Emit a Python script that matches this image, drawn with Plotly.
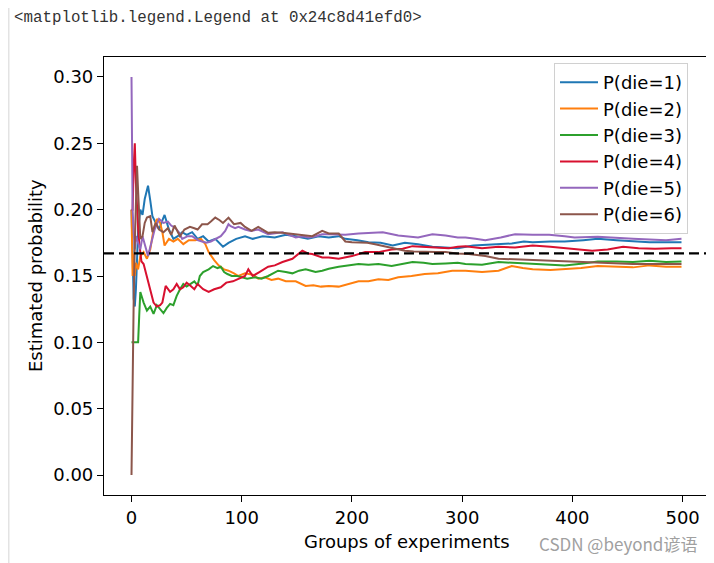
import plotly.graph_objects as go

# ---- data ----
labels = ["P(die=1)", "P(die=2)", "P(die=3)", "P(die=4)", "P(die=5)", "P(die=6)"]
colors = ["#1f77b4", "#ff7f0e", "#2ca02c", "#d8102f", "#9467bd", "#8c564b"]

x1 = [0, 1, 2, 3, 4, 5, 6, 8, 10, 12, 15, 17, 19, 22, 25, 28, 30, 34, 38, 42, 46, 50, 55, 60, 65, 70, 76, 83, 88, 95,
      103, 110, 119, 130, 140, 149, 160, 170, 179, 188, 194, 205, 215, 226, 237, 248, 260, 273, 285, 296, 310, 320,
      333, 345, 356, 364, 380, 393, 410, 423, 440, 455, 470, 485, 499]
y1 = [0.2, 0.15, 0.133, 0.127, 0.14, 0.162, 0.185, 0.2, 0.196, 0.208, 0.218, 0.207, 0.195, 0.19, 0.185, 0.192, 0.196,
      0.185, 0.178, 0.18, 0.183, 0.181, 0.183, 0.178, 0.18, 0.176, 0.178, 0.172, 0.175, 0.178, 0.18, 0.178, 0.18,
      0.179, 0.181, 0.18, 0.178, 0.18, 0.179, 0.18, 0.178, 0.177, 0.1755, 0.175, 0.173, 0.175, 0.174, 0.172, 0.1715,
      0.171, 0.173, 0.1735, 0.174, 0.1745, 0.176, 0.1755, 0.176, 0.176, 0.177, 0.178, 0.177, 0.176, 0.1755, 0.1755,
      0.1755]

x2 = [0, 1, 2, 3, 4, 6, 8, 11, 14, 17, 20, 23, 26, 28, 30, 34, 38, 42, 47, 52, 58, 63, 67, 70, 75, 79, 84, 88, 93, 97,
      103, 110, 115, 121, 127, 133, 140, 149, 158, 165, 172, 179, 188, 197, 206, 215, 224, 233, 242, 254, 266, 278,
      291, 303, 318, 333, 345, 355, 364, 380, 393, 408, 423, 440, 455, 470, 485, 499]
y2 = [0.2, 0.15, 0.167, 0.15, 0.16, 0.155, 0.165, 0.168, 0.163, 0.17, 0.185, 0.193, 0.19, 0.183, 0.173, 0.178, 0.176,
      0.178, 0.174, 0.177, 0.177, 0.178, 0.174, 0.168, 0.162, 0.158, 0.155, 0.154, 0.152, 0.15, 0.152, 0.151, 0.148,
      0.149, 0.147, 0.148, 0.146, 0.146, 0.1425, 0.143, 0.142, 0.1425, 0.142, 0.144, 0.146, 0.146, 0.1475, 0.147,
      0.149, 0.15, 0.1515, 0.152, 0.154, 0.154, 0.153, 0.154, 0.1575, 0.156, 0.155, 0.1545, 0.155, 0.156, 0.1575,
      0.157, 0.1565, 0.158, 0.157, 0.157]

x3 = [0, 6, 7, 8, 11, 14, 17, 20, 23, 26, 29, 32, 35, 38, 41, 44, 47, 50, 53, 57, 60, 62, 65, 70, 74, 78, 81, 84, 87,
      91, 96, 100, 105, 112, 118, 124, 133, 140, 146, 152, 158, 163, 167, 173, 179, 188, 194, 206, 215, 224, 236, 246,
      255, 265, 273, 285, 296, 303, 318, 333, 348, 364, 380, 393, 410, 423, 440, 455, 470, 485, 499]
y3 = [0.1, 0.1, 0.12, 0.138, 0.13, 0.124, 0.127, 0.1215, 0.128, 0.125, 0.122, 0.126, 0.129, 0.128, 0.135, 0.14, 0.144,
      0.142, 0.144, 0.146, 0.143, 0.15, 0.153, 0.155, 0.1575, 0.156, 0.157, 0.153, 0.1515, 0.15, 0.15, 0.149, 0.148,
      0.149, 0.148, 0.15, 0.154, 0.153, 0.152, 0.154, 0.155, 0.154, 0.153, 0.154, 0.1555, 0.157, 0.1575, 0.159,
      0.1585, 0.159, 0.1575, 0.159, 0.1605, 0.16, 0.159, 0.1595, 0.16, 0.159, 0.1585, 0.1605, 0.16, 0.159, 0.1585,
      0.158, 0.1595, 0.161, 0.161, 0.1605, 0.1615, 0.1605, 0.161]

x4 = [0, 1, 2, 3, 4, 5, 6, 7, 9, 11, 14, 17, 20, 23, 26, 28, 31, 35, 38, 41, 44, 47, 50, 53, 57, 60, 65, 70, 75, 81, 86,
      92, 97, 103, 106, 110, 116, 124, 130, 137, 146, 151, 155, 160, 164, 173, 179, 188, 200, 212, 224, 236, 246, 255,
      266, 276, 288, 296, 303, 318, 333, 348, 364, 380, 393, 408, 418, 432, 446, 460, 475, 490, 499]
y4 = [0.2, 0.2, 0.233, 0.25, 0.22, 0.2, 0.186, 0.175, 0.161, 0.159, 0.15, 0.14, 0.13, 0.127, 0.128, 0.13, 0.1425,
      0.138, 0.14, 0.144, 0.14, 0.1415, 0.145, 0.143, 0.14, 0.144, 0.14, 0.138, 0.14, 0.1415, 0.145, 0.146, 0.148,
      0.15, 0.155, 0.15, 0.153, 0.157, 0.158, 0.1605, 0.163, 0.166, 0.169, 0.167, 0.1665, 0.164, 0.164, 0.163, 0.165,
      0.168, 0.168, 0.17, 0.1705, 0.1725, 0.172, 0.172, 0.171, 0.172, 0.1725, 0.171, 0.172, 0.1715, 0.173, 0.172,
      0.171, 0.1695, 0.169, 0.17, 0.172, 0.171, 0.1705, 0.171, 0.171]

x5 = [0, 1, 2, 3, 4, 6, 8, 10, 13, 15, 18, 21, 25, 29, 33, 36, 40, 43, 46, 51, 55, 60, 64, 68, 72, 76, 81, 85, 88, 90,
      94, 97, 103, 108, 115, 124, 130, 137, 143, 149, 155, 161, 167, 173, 179, 188, 194, 206, 217, 228, 242, 250, 260,
      273, 285, 296, 303, 312, 321, 335, 348, 364, 379, 393, 402, 423, 440, 455, 470, 485, 499]
y5 = [0.3, 0.2, 0.183, 0.17, 0.18, 0.175, 0.17, 0.18, 0.17, 0.165, 0.175, 0.185, 0.193, 0.19, 0.191, 0.188, 0.186,
      0.183, 0.178, 0.18, 0.18, 0.177, 0.176, 0.175, 0.176, 0.178, 0.18, 0.184, 0.189, 0.1875, 0.186, 0.187, 0.185,
      0.184, 0.185, 0.1815, 0.182, 0.183, 0.181, 0.179, 0.18, 0.179, 0.18, 0.1815, 0.1815, 0.1815, 0.181, 0.182,
      0.1825, 0.183, 0.1805, 0.18, 0.179, 0.1815, 0.1805, 0.179, 0.179, 0.178, 0.177, 0.179, 0.1815, 0.181, 0.181,
      0.18, 0.179, 0.1795, 0.179, 0.178, 0.1775, 0.177, 0.178]

x6 = [0, 1, 2, 3, 4, 5, 6, 7, 8, 10, 12, 14, 17, 19, 22, 25, 29, 33, 36, 39, 44, 48, 53, 57, 60, 64, 69, 72, 76, 80,
      83, 88, 93, 99, 103, 109, 115, 124, 130, 137, 149, 157, 164, 173, 179, 188, 194, 200, 206, 214, 221, 230, 236,
      248, 256, 266, 276, 285, 295, 306, 321, 333, 348, 364, 380, 393, 410, 423, 440, 455, 470, 485, 499]
y6 = [0.0, 0.1, 0.133, 0.175, 0.2, 0.233, 0.214, 0.2, 0.178, 0.18, 0.19, 0.194, 0.195, 0.183, 0.19, 0.185, 0.183,
      0.186, 0.181, 0.188, 0.18, 0.185, 0.187, 0.186, 0.185, 0.189, 0.189, 0.191, 0.194, 0.192, 0.19, 0.194, 0.189,
      0.19, 0.187, 0.184, 0.187, 0.1825, 0.183, 0.1825, 0.1815, 0.181, 0.18, 0.184, 0.182, 0.182, 0.176, 0.1755,
      0.1755, 0.175, 0.174, 0.1725, 0.171, 0.169, 0.1685, 0.168, 0.168, 0.168, 0.167, 0.1665, 0.165, 0.163, 0.1625,
      0.162, 0.161, 0.1605, 0.1605, 0.16, 0.1595, 0.159, 0.159, 0.159, 0.159]

xs = [x1, x2, x3, x4, x5, x6]
ys = [y1, y2, y3, y4, y5, y6]

true_p = 0.167
x_ticks = [0, 100, 200, 300, 400, 500]
y_ticks = [0.0, 0.05, 0.10, 0.15, 0.20, 0.25, 0.30]
x_title = "Groups of experiments"
y_title = "Estimated probability"
header_text = "<matplotlib.legend.Legend at 0x24c8d41efd0>"
watermark = "CSDN @beyond谚语"

# ---- figure (page has an 8px body margin) ----
OFF = 8
W, H = 714, 563
L, T = 104 - OFF, 57 - OFF
R = W - (709 - OFF)
B = H - (495 - OFF)
pw, ph = W - L - R, H - T - B


def px_x(p):
    return (p - OFF - L) / pw


def px_y(p):
    return (H - B - (p - OFF)) / ph


FS = 18
fig = go.Figure()
for i in range(6):
    fig.add_trace(go.Scatter(
        x=xs[i], y=ys[i], mode="lines", name=labels[i],
        line=dict(color=colors[i], width=2), legendgroup="g%d" % i,
    ))

fig.add_hline(y=true_p, line=dict(color="black", width=2.2, dash="10px,5px"))

font_main = "DejaVu Sans"
fig.update_layout(
    width=W, height=H,
    margin=dict(l=L, r=R, t=T, b=B),
    paper_bgcolor="white", plot_bgcolor="white",
    font=dict(family=font_main, size=FS, color="black"),
    showlegend=True,
    legend=dict(
        x=1 - 21 / pw, y=1 - 6 / ph, xanchor="right", yanchor="top",
        bgcolor="rgba(255,255,255,0.85)", bordercolor="#d0d0d0", borderwidth=1,
        font=dict(family=font_main, size=FS, color="black"),
        traceorder="grouped", tracegroupgap=0, itemwidth=38,
    ),
    xaxis=dict(
        range=[-24.95, 523.95], tickvals=x_ticks, showgrid=False, zeroline=False,
        showline=True, linecolor="black", linewidth=1.2, mirror=True,
        ticks="outside", ticklen=6, tickwidth=1.2, tickcolor="black",
        tickfont=dict(family=font_main, size=FS),
    ),
    yaxis=dict(
        range=[-0.015, 0.315], tickvals=y_ticks, tickformat=".2f", showgrid=False, zeroline=False,
        showline=True, linecolor="black", linewidth=1.2, mirror=True,
        ticks="outside", ticklen=6, tickwidth=1.2, tickcolor="black",
        tickfont=dict(family=font_main, size=FS),
    ),
)

annotations = [
    dict(text=x_title, xref="paper", yref="paper", x=0.5, y=px_y(541), xanchor="center", yanchor="middle",
         showarrow=False, font=dict(family=font_main, size=FS, color="black")),
    dict(text=y_title, xref="paper", yref="paper", x=px_x(35), y=0.5, xanchor="center", yanchor="middle",
         textangle=-90, showarrow=False, font=dict(family=font_main, size=FS, color="black")),
    dict(text=header_text.replace("<", "&lt;").replace(">", "&gt;"), xref="paper", yref="paper",
         x=px_x(12), y=px_y(18), xanchor="left", yanchor="middle", showarrow=False,
         font=dict(family="Liberation Mono", size=15.8, color="#333333")),
    dict(text=watermark, xref="paper", yref="paper", x=px_x(699), y=px_y(543), xanchor="right",
         yanchor="middle", showarrow=False, font=dict(family="Noto Sans CJK SC", size=17, color="#a0a0a0")),
]
fig.update_layout(annotations=annotations)

fig.add_shape(type="line", xref="paper", yref="paper", x0=px_x(OFF + 0.75), x1=px_x(OFF + 0.75),
              y0=px_y(H), y1=px_y(OFF), line=dict(color="#e3e3e3", width=1.5))

fig.write_html("out.html")
